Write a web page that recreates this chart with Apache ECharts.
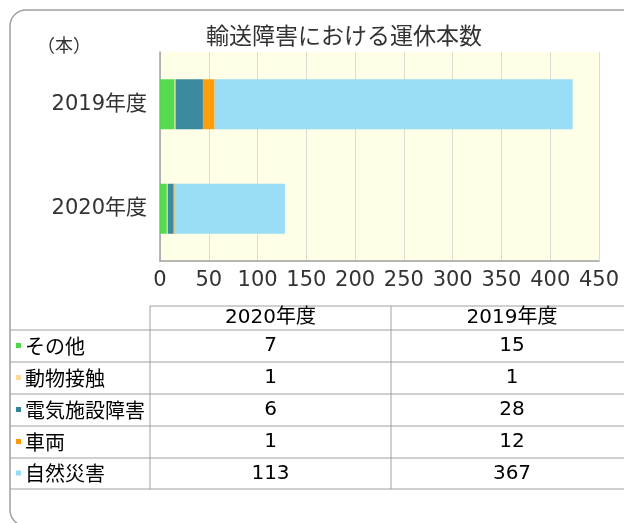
<!DOCTYPE html>
<html>
<head>
<meta charset="utf-8">
<script src="https://cdn.jsdelivr.net/npm/echarts@6/dist/echarts.min.js"></script>
<style>
  html, body { margin: 0; padding: 0; background: #fff; }
  #chart_main { width: 624px; height: 523px; }
</style>
</head>
<body>
<div id="chart_main"></div>
<script>
  // データ
  var years = ['2020年度', '2019年度'];
  var seriesNames = ['その他', '動物接触', '電気施設障害', '車両', '自然災害'];
  var seriesColors = ['#4dd847', '#ffd997', '#31849b', '#ff9900', '#93dbf7'];
  var valSonota = [7, 15];
  var valDoubutsu = [1, 1];
  var valDenki = [6, 28];
  var valSharyo = [1, 12];
  var valShizen = [113, 367];
  var xTicks = { min: 0, max: 450, interval: 50 };

  var allValues = [valSonota, valDoubutsu, valDenki, valSharyo, valShizen];

  var cjk = '"DejaVu Sans", "Noto Sans CJK JP", sans-serif';
  var lineColor = '#a0a0a0';

  // データテーブル（グラフ下）
  var tableRows = [306, 330, 362, 394, 426, 458, 489];
  var colX = [150, 391, 640];
  var graphics = [];

  // 外枠
  graphics.push({
    type: 'rect',
    shape: { x: 10, y: 10, width: 640, height: 516, r: 16 },
    style: { fill: 'none', stroke: lineColor, lineWidth: 1.5 },
    z: 10
  });
  graphics.push({
    type: 'text', x: 344, y: 35,
    style: { text: '輸送障害における運休本数', font: '23px "Noto Sans CJK JP", sans-serif',
      fill: '#333', align: 'center', verticalAlign: 'middle' }
  });
  graphics.push({
    type: 'text', x: 37, y: 45,
    style: { text: '（本）', font: '18px "Noto Sans CJK JP", sans-serif',
      fill: '#333', align: 'left', verticalAlign: 'middle' }
  });

  // 横線
  tableRows.forEach(function(y, i) {
    graphics.push({
      type: 'line',
      shape: { x1: i === 0 ? colX[0] : 10, y1: y, x2: 640, y2: y },
      style: { stroke: lineColor, lineWidth: 1 }
    });
  });
  // 縦線
  colX.slice(0, 2).forEach(function(x) {
    graphics.push({
      type: 'line',
      shape: { x1: x, y1: tableRows[0], x2: x, y2: tableRows[tableRows.length - 1] },
      style: { stroke: lineColor, lineWidth: 1 }
    });
  });
  // ヘッダー
  years.forEach(function(y, j) {
    graphics.push({
      type: 'text', x: (colX[j] + colX[j + 1] - (j === 1 ? 7 : 0)) / 2, y: (tableRows[0] + tableRows[1]) / 2,
      style: { text: y, font: '20px ' + cjk, fill: '#000', align: 'center', verticalAlign: 'middle' }
    });
  });
  // 行
  seriesNames.forEach(function(name, i) {
    var cy = (tableRows[i + 1] + tableRows[i + 2]) / 2;
    graphics.push({
      type: 'rect', shape: { x: 16, y: cy - 3, width: 5, height: 5 },
      style: { fill: seriesColors[i] }
    });
    graphics.push({
      type: 'text', x: 25, y: cy,
      style: { text: name, font: '20px "Noto Sans CJK JP", sans-serif', fill: '#000',
        align: 'left', verticalAlign: 'middle' }
    });
    years.forEach(function(y, j) {
      graphics.push({
        type: 'text', x: (colX[j] + colX[j + 1] - (j === 1 ? 7 : 0)) / 2, y: cy,
        style: { text: String(allValues[i][j]), font: '20px ' + cjk, fill: '#000',
          align: 'center', verticalAlign: 'middle' }
      });
    });
  });

  var series = seriesNames.map(function(name, i) {
    return {
      name: name,
      type: 'bar',
      stack: 'total',
      barWidth: 50,
      data: allValues[i],
      itemStyle: { color: seriesColors[i], opacity: 0.95 },
      silent: true
    };
  });

  var main = {
    id: 'chart_main',
    option: {
      animation: false,
      backgroundColor: '#fff',
      grid: {
        left: 160, right: 25, top: 52, bottom: 262,
        show: true, backgroundColor: '#fffee6', borderWidth: 0
      },
      xAxis: {
        type: 'value',
        min: xTicks.min, max: xTicks.max, interval: xTicks.interval,
        axisLine: { show: true, lineStyle: { color: lineColor, width: 1.5 } },
        axisTick: { show: false },
        splitLine: { show: true, lineStyle: { color: '#dcdcd2', width: 1 } },
        axisLabel: { fontSize: 21, fontFamily: 'DejaVu Sans', color: '#333', margin: 9 }
      },
      yAxis: {
        type: 'category',
        data: years,
        axisLine: { show: true, lineStyle: { color: lineColor, width: 1.5 } },
        axisTick: { show: false },
        axisLabel: { fontSize: 21, fontFamily: cjk, color: '#333', margin: 13 }
      },
      series: series,
      graphic: graphics
    }
  };

  var chart = echarts.init(document.getElementById(main.id));
  chart.setOption(main.option);
</script>
</body>
</html>
